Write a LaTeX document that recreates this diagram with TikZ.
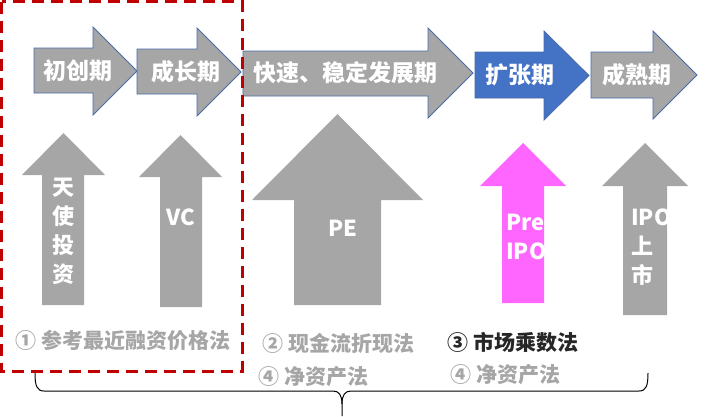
\documentclass[tikz,border=0pt]{standalone}
\usepackage{fontspec}
\newfontfamily\cjk{Noto Sans CJK SC}
\usetikzlibrary{positioning}
\definecolor{stagegray}{HTML}{A6A6A6}
\definecolor{stageblue}{HTML}{4472C4}
\definecolor{stageedge}{HTML}{4A6BA6}
\definecolor{preipo}{HTML}{FF66FF}
\definecolor{boxred}{HTML}{C00000}
\definecolor{methodgray}{HTML}{A6A6A6}
\definecolor{methodblack}{HTML}{262626}
\tikzstyle{stage} = [draw=stageedge, line width=0.8pt, fill=stagegray]
\tikzstyle{stagetext} = [text=white, inner sep=0pt, font=\cjk\bfseries\fontsize{23}{23}\selectfont]
\tikzstyle{fund} = [fill=stagegray]
\tikzstyle{fundtext} = [text=white, inner sep=0pt, font=\cjk\bfseries\fontsize{22}{29}\selectfont]
\tikzstyle{method} = [anchor=west, inner sep=0pt, text=methodgray, font=\cjk\bfseries\fontsize{21}{21}\selectfont]
\tikzstyle{brace} = [draw, black, line width=1pt]

% right arrow: style, left, body top, body bottom, head x, head top, head bottom, tip x
\newcommand{\stagearrow}[8]{%
  \path[#1] (#2,#3) -- (#5,#3) -- (#5,#6) -- (#8,{(#6+#7)/2}) -- (#5,#7) -- (#5,#4) -- (#2,#4) -- cycle;}
% up arrow: style, tip y, base y, head left, head right, body left, body right, bottom
\newcommand{\fundarrow}[8]{%
  \path[#1] ({(#4+#5)/2},#2) -- (#5,#3) -- (#7,#3) -- (#7,#8) -- (#6,#8) -- (#6,#3) -- (#4,#3) -- cycle;}

\begin{document}
\begin{tikzpicture}[x=1pt, y=-1pt]
    \useasboundingbox (0,0) rectangle (719,416);

    % stages
    \stagearrow{stage}{34}{48}{93}{93}{27}{115}{137}
    \stagearrow{stage}{137}{49}{94}{197}{28}{116}{241}
    \stagearrow{stage}{243}{51}{96}{428}{28}{118}{473}
    \stagearrow{stage, fill=stageblue}{475}{52}{98}{544}{31}{120}{589}
    \stagearrow{stage}{591}{52}{98}{653}{31}{119}{697}

    \node [stagetext] (start) at (78,71) {初创期};
    \node [stagetext] (growth) at (186,72) {成长期};
    \node [stagetext] (steady) at (345,73) {快速、稳定发展期};
    \node [stagetext] (expand) at (520,75) {扩张期};
    \node [stagetext] (mature) at (637,75) {成熟期};

    % financing
    \fundarrow{fund}{133}{175}{22}{105}{42}{84}{305}
    \fundarrow{fund}{135}{177}{139}{222}{160}{202}{307}
    \fundarrow{fund}{114}{200}{252}{423}{294}{381}{305}
    \fundarrow{fund, fill=preipo}{143}{186}{480}{566}{502}{544}{303}
    \fundarrow{fund}{143}{186}{602}{688}{623}{667}{315}

    \node [fundtext, align=center] (angel) at (63,231) {天\\使\\投\\资};
    \node [fundtext] (vc) at (181,217) {VC};
    \node [fundtext] (pe) at (343,228) {PE};
    \node [fundtext, align=left, anchor=west] (pre) at (506,237) {Pre\\IPO};
    \node [fundtext, align=left, anchor=west] (ipo) at (631,247) {IPO\\上\\市};

    % valuation methods
    \node [method] (recent) at (15,340) {① 参考最近融资价格法};
    \node [method] (dcf) at (262,343) {② 现金流折现法};
    \node [method] (netleft) at (258,377) {④ 净资产法};
    \node [method, text=methodblack] (multiple) at (447,342) {③ 市场乘数法};
    \node [method] (netright) at (450,375) {④ 净资产法};

    % early stage box
    \draw [boxred, line width=3pt, dash pattern=on 12pt off 7pt] (1.5,1.5) rectangle (242,371);

    % brace
    \draw [brace] (35,373) .. controls (35,386) and (37,391) .. (44,391) -- (333,391) .. controls (339,391) and (342,395) .. (342,404) -- (342,416);
    \draw [brace] (648,373) .. controls (648,386) and (646,391) .. (639,391) -- (351,391) .. controls (345,391) and (342,395) .. (342,404);
\end{tikzpicture}
\end{document}
